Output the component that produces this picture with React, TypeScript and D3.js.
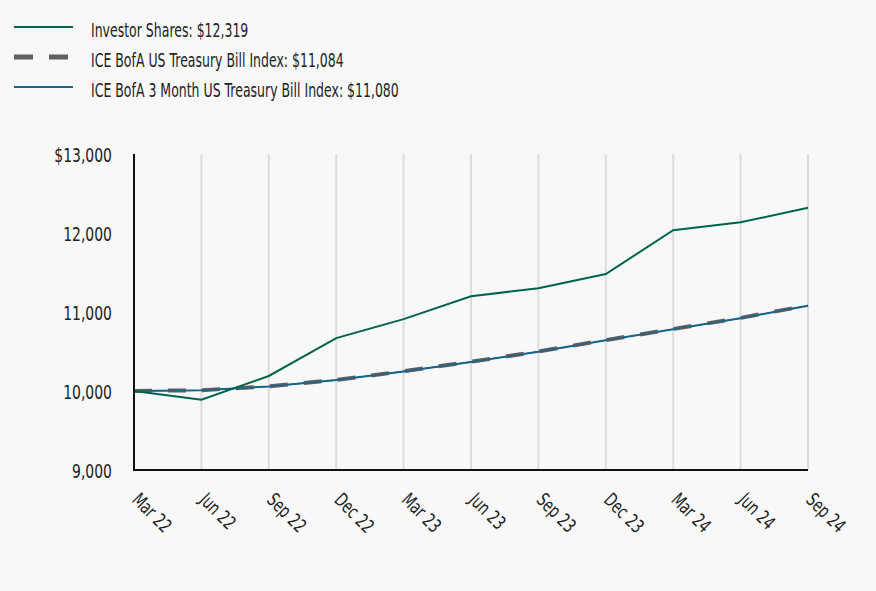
import React from "react";
import * as d3 from "d3";

const categories = ["Mar 22","Jun 22","Sep 22","Dec 22","Mar 23","Jun 23","Sep 23","Dec 23","Mar 24","Jun 24","Sep 24"];
const investor = [10000, 9890, 10190, 10670, 10910, 11200, 11300, 11480, 12035, 12135, 12319];
const tbill = [10000, 10010, 10060, 10140, 10250, 10370, 10500, 10645, 10785, 10925, 11084];
const tbill3m = [10000, 10008, 10058, 10138, 10248, 10368, 10498, 10642, 10782, 10922, 11080];
const yTicks = [9000, 10000, 11000, 12000, 13000];
const legendLabels = [
  "Investor Shares: $12,319",
  "ICE BofA US Treasury Bill Index: $11,084",
  "ICE BofA 3 Month US Treasury Bill Index: $11,080",
];

const W = 876, H = 591;
const FONT = "'DejaVu Sans', sans-serif";
const FS = 19;
const GREEN = "#00644c";
const GRAY = "#5f5f5f";
const BLUE = "#17648f";

function Txt({ x, y, rot = 0, anchor = "start", sx = 0.735, children }: { x: number; y: number; rot?: number; anchor?: string; sx?: number; children: React.ReactNode }) {
  return (
    <text
      transform={`translate(${x},${y}) rotate(${rot}) scale(${sx},1)`}
      textAnchor={anchor}
      fontFamily={FONT}
      fontSize={FS}
      fill="#222"
    >
      {children}
    </text>
  );
}

export default function App() {
  const x = d3.scalePoint<string>().domain(categories).range([134, 808]);
  const y = d3.scaleLinear().domain([9000, 13000]).range([470, 154]);
  const line = d3.line<number>().x((_, i) => x(categories[i])!).y((d) => y(d));
  const fmt = (v: number, i: number) => (i === yTicks.length - 1 ? "$" : "") + d3.format(",")(v);

  const legend = [
    { label: legendLabels[0], color: GREEN, width: 2, dash: undefined as string | undefined },
    { label: legendLabels[1], color: GRAY, width: 5, dash: "19 16" },
    { label: legendLabels[2], color: BLUE, width: 2, dash: undefined },
  ];

  return (
    <div style={{ position: "absolute", left: 0, top: 0 }}>
      <svg width={W} height={H} style={{ display: "block", background: "#f8f8f8" }}>
        {legend.map((l, i) => (
          <g key={i}>
            <line x1={14} x2={73} y1={27 + i * 30} y2={27 + i * 30} stroke={l.color} strokeWidth={l.width} strokeDasharray={l.dash} />
            <Txt x={91} y={27 + i * 30 + 9.5} sx={0.658}>{l.label}</Txt>
          </g>
        ))}
        {categories.slice(1).map((c) => (
          <line key={c} x1={x(c)} x2={x(c)} y1={154} y2={470} stroke="#dcdcdc" strokeWidth={2} />
        ))}
        {yTicks.map((t, i) => (
          <Txt key={t} x={112} y={y(t) + 8} anchor="end">{fmt(t, i)}</Txt>
        ))}
        {categories.map((c) => (
          <Txt key={c} x={x(c)! - 3} y={501} rot={45} sx={0.7}>{c}</Txt>
        ))}
        <path d={line(tbill3m)!} fill="none" stroke={BLUE} strokeWidth={2} />
        <path d={line(tbill)!} fill="none" stroke={GRAY} strokeWidth={4} strokeDasharray="18 16" />
        <path d={line(tbill3m)!} fill="none" stroke={BLUE} strokeWidth={1.2} />
        <path d={line(investor)!} fill="none" stroke={GREEN} strokeWidth={2} />
        <line x1={134} x2={134} y1={154} y2={471} stroke="#111" strokeWidth={2} />
        <line x1={133} x2={808} y1={470} y2={470} stroke="#111" strokeWidth={2} />
      </svg>
    </div>
  );
}
